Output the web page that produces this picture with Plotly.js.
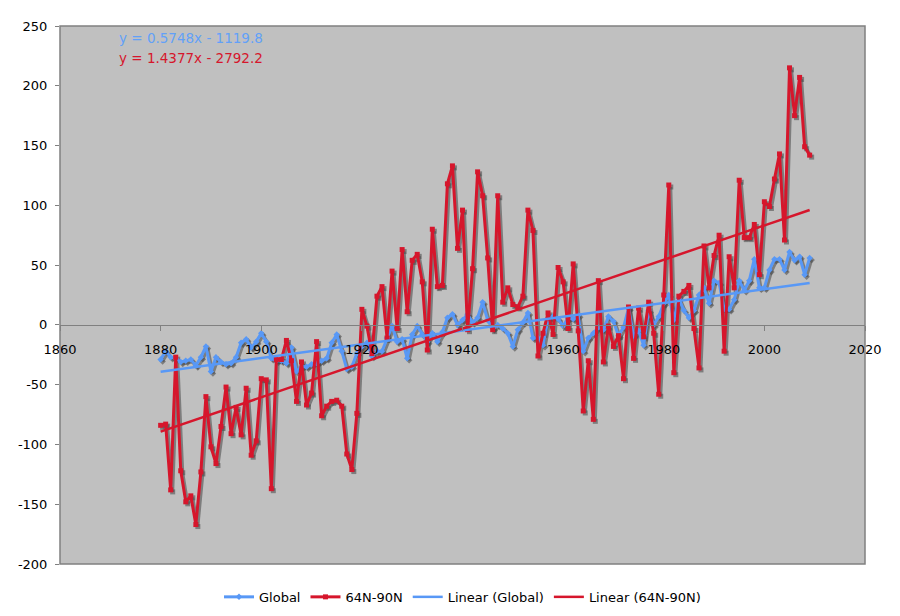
<!DOCTYPE html>
<html>
<head>
<meta charset="utf-8">
<script src="https://cdn.plot.ly/plotly-3.0.1.min.js"></script>
<style>
  html, body { margin: 0; padding: 0; background: #fff; }
  #chart { width: 900px; height: 616px; }
</style>
</head>
<body>
<div id="chart"></div>
<script>
// years 1880..2009
const years = [];
for (let y = 1880; y <= 2009; y++) years.push(y);

const globalVals = [
  -29, -22, -27, -28, -31, -30, -29, -34, -27, -18,
  -39, -27, -31, -33, -32, -27, -15, -12, -19, -14,
  -7, -14, -28, -30, -30, -32, -19, -39, -35, -35,
  -33, -32, -30, -28, -15, -8, -22, -37, -35, -24,
  -18, -15, -26, -22, -22, -11, -1, -14, -12, -28,
  -8, -1, -8, -14, -7, -14, -6, 6, 9, 0,
  4, 9, 2, 6, 19, 4, -3, 0, -3, -7,
  -18, -4, 2, 10, -11, -11, -17, 5, 7, 5,
  -1, 6, 5, 8, -22, -11, -7, -2, -4, 7,
  3, -9, -2, 14, -9, -5, -17, 12, 0, 7,
  18, 25, 4, 22, 12, 6, 12, 25, 31, 18,
  37, 35, 13, 13, 21, 37, 29, 37, 55, 31,
  31, 46, 55, 55, 46, 61, 54, 57, 42, 56
];

const arcticVals = [
  -84, -83, -138, -27, -122, -148, -143, -167, -123, -60,
  -102, -116, -85, -52, -91, -69, -92, -53, -109, -97,
  -45, -46, -137, -29, -29, -13, -30, -64, -31, -67,
  -57, -14, -76, -68, -64, -63, -68, -108, -121, -74,
  13, -1, -24, 24, 32, -11, 45, -3, 63, 11,
  54, 59, 36, -21, 80, 32, 33, 118, 133, 64,
  96, -4, 47, 128, 108, 56, -4, 108, 19, 31,
  17, 15, 24, 96, 79, -26, -7, 10, -8, 48,
  36, -3, 51, -5, -72, -30, -79, 37, -31, -1,
  -18, -9, -45, 15, -28, 14, -10, 19, -7, -58,
  25, 117, -40, 24, 28, 33, -3, -36, 66, 31,
  58, 75, -22, 57, 31, 121, 73, 73, 84, 42,
  103, 99, 122, 143, 71, 215, 175, 207, 149, 142
];

const xTicks = [1860, 1880, 1900, 1920, 1940, 1960, 1980, 2000, 2020];
const yTicks = [-200, -150, -100, -50, 0, 50, 100, 150, 200, 250];
const yTickText = ['-200', '-150', '-100', '-50', '0', '50', '100', '150', '200', '250'];

// trend equations shown on the chart
const globalSlope = 0.5748, globalIntercept = -1119.8;
const arcticSlope = 1.4377, arcticIntercept = -2792.2;

const trendX = [years[0], years[years.length - 1]];
const globalTrend = trendX.map((x) => globalSlope * x + globalIntercept);
const arcticTrend = trendX.map((x) => arcticSlope * x + arcticIntercept);

const blue = 'rgb(88,152,246)';
const red = 'rgb(214,22,44)';
const shadow = 'rgba(70,70,70,0.55)';

const xRange = [1860, 2020];
const yRange = [-200, 250];
// shadow axes: same scale, nudged ~2px right and down
const pxX = 805 / (xRange[1] - xRange[0]);
const pxY = 538 / (yRange[1] - yRange[0]);

let data = [
  {
    x: years, y: globalVals, xaxis: 'x', yaxis: 'y',
    type: 'scatter', mode: 'lines+markers', showlegend: false, hoverinfo: 'skip',
    line: { color: shadow, width: 3 },
    marker: { symbol: 'diamond', size: 5, color: shadow }
  },
  {
    x: years, y: arcticVals, xaxis: 'x', yaxis: 'y',
    type: 'scatter', mode: 'lines+markers', showlegend: false, hoverinfo: 'skip',
    line: { color: shadow, width: 3 },
    marker: { symbol: 'square', size: 5, color: shadow }
  },
  {
    x: years, y: globalVals, xaxis: 'x2', yaxis: 'y2', name: 'Global',
    type: 'scatter', mode: 'lines+markers',
    line: { color: blue, width: 3 },
    marker: { symbol: 'diamond', size: 5, color: blue }
  },
  {
    x: years, y: arcticVals, xaxis: 'x2', yaxis: 'y2', name: '64N-90N',
    type: 'scatter', mode: 'lines+markers',
    line: { color: red, width: 3 },
    marker: { symbol: 'square', size: 5, color: red }
  },
  {
    x: trendX, y: globalTrend, xaxis: 'x2', yaxis: 'y2', name: 'Linear (Global)',
    type: 'scatter', mode: 'lines',
    line: { color: blue, width: 2.5 }
  },
  {
    x: trendX, y: arcticTrend, xaxis: 'x2', yaxis: 'y2', name: 'Linear (64N-90N)',
    type: 'scatter', mode: 'lines',
    line: { color: red, width: 2.5 }
  }
];

let layout = {
  width: 900,
  height: 616,
  margin: { l: 60, r: 35, t: 26, b: 52 },
  paper_bgcolor: '#ffffff',
  plot_bgcolor: '#c0c0c0',
  font: { family: 'DejaVu Sans, Verdana, sans-serif', size: 12, color: '#000' },
  showlegend: true,
  legend: {
    orientation: 'h', x: 0.5, xanchor: 'center',
    yref: 'container', y: 0.031, yanchor: 'middle',
    font: { size: 13 }, itemwidth: 30, tracegroupgap: 0
  },
  xaxis: {
    range: [xRange[0] - 2 / pxX, xRange[1] - 2 / pxX],
    visible: false, fixedrange: true
  },
  yaxis: {
    range: [yRange[0] + 2 / pxY, yRange[1] + 2 / pxY],
    visible: false, fixedrange: true
  },
  xaxis2: {
    overlaying: 'x', anchor: 'free',
    position: (0 - yRange[0]) / (yRange[1] - yRange[0]),
    range: xRange, tickvals: xTicks,
    showgrid: false, zeroline: false,
    showline: true, linecolor: '#808080', linewidth: 1,
    ticks: 'outside', ticklen: 5, tickcolor: '#808080',
    ticklabelstandoff: 8,
    tickfont: { size: 13 }
  },
  yaxis2: {
    overlaying: 'y', anchor: 'x2', side: 'left',
    range: yRange, tickvals: yTicks, ticktext: yTickText,
    showgrid: false, zeroline: false,
    showline: false,
    ticks: 'outside', ticklen: 4, tickcolor: '#808080',
    ticklabelstandoff: 5,
    tickfont: { size: 13 }
  },
  shapes: [
    {
      type: 'rect', xref: 'paper', yref: 'paper', x0: 0, x1: 1, y0: 0, y1: 1,
      line: { color: '#808080', width: 1.5 }
    }
  ],
  annotations: [
    {
      xref: 'paper', yref: 'paper', x: 0.0708, y: 0.9777, xanchor: 'left', yanchor: 'middle',
      text: 'y = 0.5748x - 1119.8', showarrow: false,
      font: { size: 13.5, color: 'rgb(98,160,248)' }
    },
    {
      xref: 'paper', yref: 'paper', x: 0.0708, y: 0.9405, xanchor: 'left', yanchor: 'middle',
      text: 'y = 1.4377x - 2792.2', showarrow: false,
      font: { size: 13.5, color: red }
    }
  ]
};

Plotly.newPlot('chart', data, layout, { displayModeBar: false, staticPlot: true });
</script>
</body>
</html>
